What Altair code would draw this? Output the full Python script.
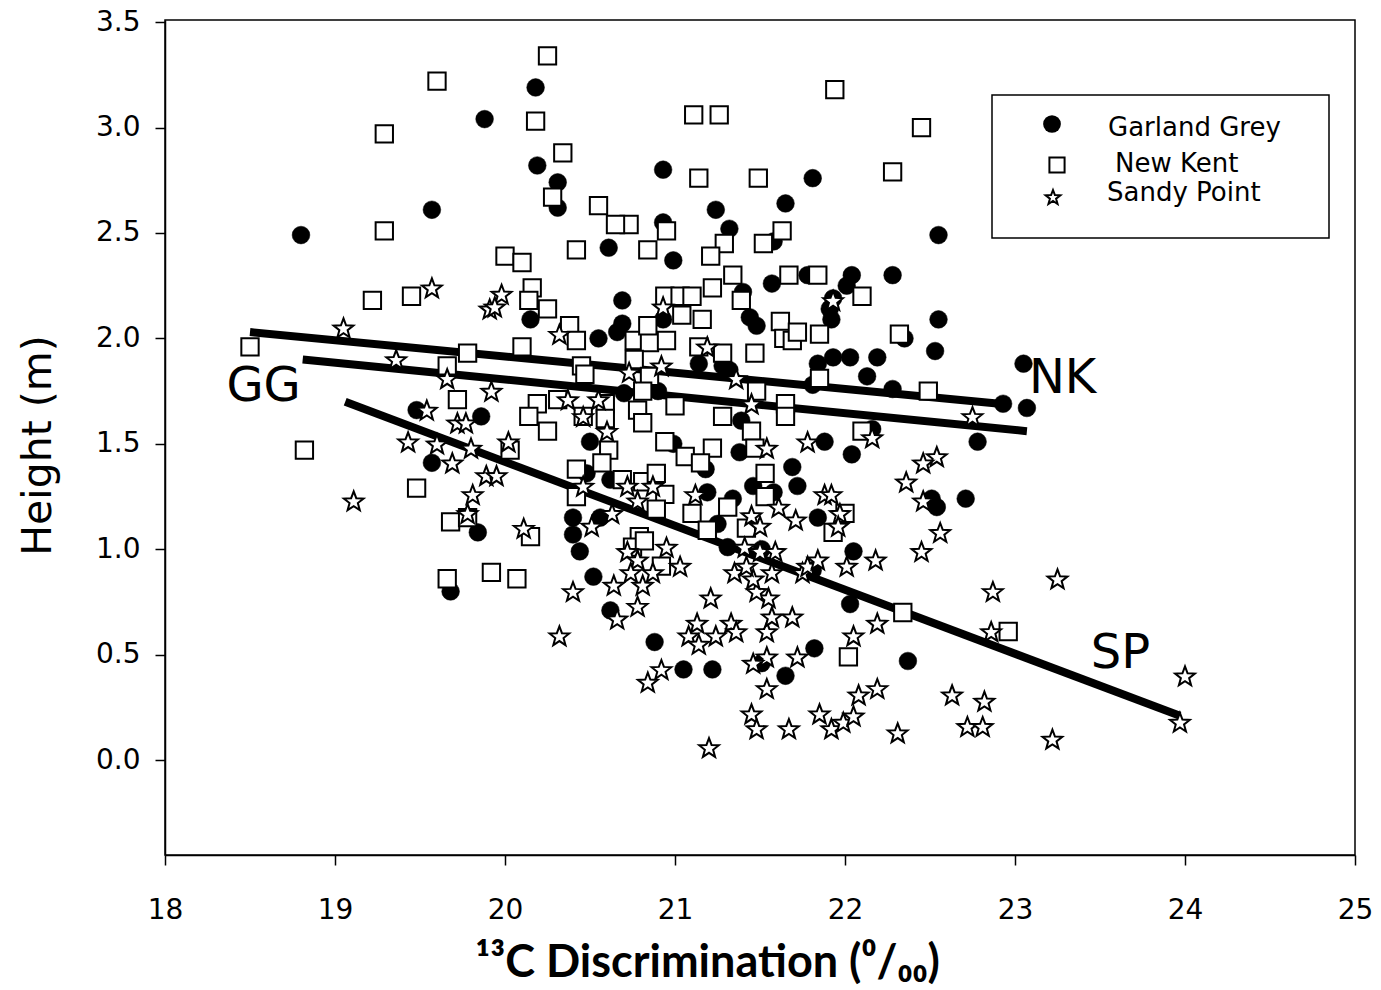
import altair as alt
import pandas as pd

# ---- data (x = 13C discrimination, y = height m) ----
garland_grey = [
    (20.18, 3.19), (19.88, 3.04), (20.19, 2.82), (20.31, 2.74), (20.31, 2.62), (19.57, 2.61),
    (18.80, 2.49), (20.93, 2.80), (21.81, 2.76), (21.65, 2.64), (21.24, 2.61), (21.32, 2.52),
    (20.93, 2.55), (20.61, 2.43), (20.99, 2.37), (21.78, 2.30), (22.04, 2.30), (21.57, 2.26),
    (21.58, 2.46), (22.28, 2.30), (22.55, 2.49), (20.69, 2.18), (20.69, 2.07), (20.66, 2.03),
    (20.55, 2.00), (20.93, 2.09), (21.14, 1.88), (21.28, 1.87), (21.32, 1.85), (21.40, 2.22),
    (21.44, 2.10), (21.48, 2.06), (22.01, 2.25), (21.93, 2.19), (21.91, 2.14), (21.92, 2.09),
    (21.84, 1.88), (21.93, 1.91), (22.03, 1.91), (22.19, 1.91), (22.13, 1.82), (21.81, 1.78),
    (20.50, 1.51), (20.70, 1.74), (20.90, 1.75), (20.99, 1.50), (21.18, 1.38), (21.39, 1.61),
    (21.38, 1.46), (21.46, 1.30), (21.58, 1.27), (21.69, 1.39), (21.72, 1.30), (21.88, 1.51),
    (22.04, 1.45), (21.19, 1.27), (21.34, 1.24), (20.40, 1.15), (20.56, 1.15), (21.84, 1.15),
    (20.40, 1.07), (20.62, 1.33), (20.48, 1.36), (22.16, 1.57), (22.55, 2.09), (22.35, 2.00),
    (22.53, 1.94), (22.28, 1.76), (23.05, 1.88), (22.93, 1.69), (23.07, 1.67), (22.78, 1.51),
    (22.51, 1.24), (22.54, 1.20), (22.71, 1.24), (20.15, 2.09), (19.48, 1.66), (19.86, 1.63),
    (19.57, 1.41), (19.84, 1.08), (19.68, 0.80), (20.44, 0.99), (20.52, 0.87), (20.62, 0.71),
    (20.88, 0.56), (21.05, 0.43), (21.22, 0.43), (21.31, 1.01), (21.25, 1.12), (21.51, 1.00),
    (21.81, 0.90), (22.05, 0.99), (22.03, 0.74), (21.82, 0.53), (21.65, 0.40), (21.51, 0.46),
    (22.37, 0.47),
]

new_kent = [
    (20.25, 3.34), (19.60, 3.22), (20.18, 3.03), (19.29, 2.97), (20.34, 2.88), (20.28, 2.67),
    (19.29, 2.51), (20.00, 2.39), (20.10, 2.36), (20.16, 2.24), (21.94, 3.18), (21.11, 3.06),
    (21.26, 3.06), (21.14, 2.76), (21.49, 2.76), (20.55, 2.63), (20.73, 2.54), (20.65, 2.54),
    (20.95, 2.51), (20.42, 2.42), (20.84, 2.42), (21.29, 2.45), (21.21, 2.39), (21.52, 2.45),
    (21.63, 2.51), (21.34, 2.30), (21.67, 2.30), (21.84, 2.30), (22.45, 3.00), (22.28, 2.79),
    (19.22, 2.18), (19.45, 2.20), (20.14, 2.18), (20.25, 2.14), (18.50, 1.96), (19.78, 1.93),
    (20.10, 1.96), (19.66, 1.87), (19.72, 1.71), (20.19, 1.69), (20.31, 1.71), (20.14, 1.63),
    (20.25, 1.56), (18.82, 1.47), (20.03, 1.47), (19.48, 1.29), (19.68, 1.13), (19.78, 1.15),
    (20.15, 1.06), (19.66, 0.86), (19.92, 0.89), (20.07, 0.86), (20.38, 2.06), (20.42, 1.99),
    (20.76, 1.99), (20.85, 1.98), (20.95, 1.99), (20.84, 2.06), (20.94, 2.20), (21.03, 2.20),
    (21.10, 2.20), (21.04, 2.11), (21.22, 2.24), (21.39, 2.18), (21.16, 2.09), (21.14, 1.96),
    (21.28, 1.93), (21.47, 1.93), (21.62, 2.08), (21.64, 2.00), (21.69, 1.99), (21.72, 2.03),
    (21.85, 2.02), (22.10, 2.20), (20.76, 1.90), (20.45, 1.87), (20.47, 1.83), (20.85, 1.82),
    (20.81, 1.75), (20.59, 1.69), (21.00, 1.68), (21.28, 1.63), (21.48, 1.75), (21.65, 1.69),
    (21.65, 1.63), (21.85, 1.81), (20.78, 1.66), (20.46, 1.63), (20.59, 1.62), (20.81, 1.60),
    (21.45, 1.56), (22.10, 1.56), (20.94, 1.51), (20.61, 1.47), (21.22, 1.48), (21.47, 1.48),
    (21.06, 1.44), (21.15, 1.41), (20.42, 1.38), (20.57, 1.41), (21.53, 1.36), (21.53, 1.25),
    (20.69, 1.33), (20.81, 1.32), (20.89, 1.36), (20.94, 1.26), (20.42, 1.25), (21.10, 1.17),
    (21.31, 1.20), (20.89, 1.19), (21.19, 1.09), (21.42, 1.10), (22.00, 1.17), (20.79, 1.06),
    (22.32, 2.02), (22.49, 1.75), (20.75, 1.01), (20.82, 1.04), (20.92, 0.92), (21.93, 1.08),
    (22.02, 0.49), (22.34, 0.70), (22.96, 0.61),
]

sandy_point = [
    (19.57, 2.24), (19.98, 2.21), (19.91, 2.14), (19.94, 2.15), (19.05, 2.05), (20.32, 2.02),
    (19.36, 1.90), (19.66, 1.81), (19.92, 1.75), (19.54, 1.66), (19.72, 1.60), (19.77, 1.60),
    (19.43, 1.51), (19.60, 1.50), (19.80, 1.48), (20.02, 1.51), (19.69, 1.41), (19.89, 1.35),
    (19.95, 1.35), (19.81, 1.26), (19.11, 1.23), (19.78, 1.17), (20.11, 1.10), (20.32, 0.59),
    (20.93, 2.15), (21.19, 1.96), (20.73, 1.84), (20.92, 1.87), (21.36, 1.81), (21.93, 2.18),
    (20.37, 1.71), (20.55, 1.71), (20.46, 1.63), (20.60, 1.56), (21.45, 1.69), (21.78, 1.51),
    (21.54, 1.48), (22.16, 1.53), (20.46, 1.30), (20.72, 1.30), (20.87, 1.30), (20.78, 1.23),
    (21.12, 1.26), (20.63, 1.17), (20.51, 1.11), (21.61, 1.20), (21.71, 1.14), (21.45, 1.16),
    (21.50, 1.11), (21.88, 1.26), (21.92, 1.26), (21.97, 1.17), (21.96, 1.11), (22.75, 1.63),
    (22.54, 1.44), (22.46, 1.41), (22.36, 1.32), (22.46, 1.23), (22.56, 1.08), (20.72, 0.99),
    (20.78, 0.95), (20.95, 1.01), (21.03, 0.92), (20.74, 0.89), (20.87, 0.89), (20.81, 0.83),
    (20.64, 0.83), (20.40, 0.80), (20.78, 0.73), (20.66, 0.67), (21.21, 0.77), (21.13, 0.65),
    (21.08, 0.59), (21.14, 0.55), (21.24, 0.59), (21.33, 0.65), (21.36, 0.61), (21.54, 0.61),
    (21.57, 0.68), (21.69, 0.68), (21.55, 0.77), (21.48, 0.80), (21.46, 0.86), (21.35, 0.89),
    (21.41, 1.01), (21.50, 0.99), (21.59, 0.99), (21.42, 0.92), (21.57, 0.89), (21.75, 0.89),
    (21.78, 0.92), (21.84, 0.95), (22.01, 0.92), (22.18, 0.95), (22.05, 0.59), (22.19, 0.65),
    (21.72, 0.49), (21.54, 0.49), (21.46, 0.46), (20.92, 0.43), (20.84, 0.37), (21.54, 0.34),
    (22.08, 0.31), (22.19, 0.34), (21.45, 0.22), (21.48, 0.15), (21.67, 0.15), (21.85, 0.22),
    (21.92, 0.15), (21.99, 0.18), (22.05, 0.21), (21.20, 0.06), (22.45, 0.99), (22.87, 0.80),
    (23.25, 0.86), (22.86, 0.61), (24.00, 0.40), (23.97, 0.18), (22.63, 0.31), (22.82, 0.28),
    (22.72, 0.16), (22.81, 0.16), (22.31, 0.13), (23.22, 0.10),
]

# regression lines: (label, x_start, y_start, x_end, y_end)
fit_lines = [
    ("NK", 18.50, 2.03, 22.91, 1.69),
    ("GG", 18.81, 1.90, 23.07, 1.56),
    ("SP", 19.06, 1.70, 23.97, 0.21),
]

# line labels: (text, x, y at baseline)
line_labels = [("GG", 18.58, 1.705), ("NK", 23.28, 1.743), ("SP", 23.62, 0.438)]

legend_names = ["Garland Grey", "New Kent", "Sandy Point"]
x_ticks = [18, 19, 20, 21, 22, 23, 24, 25]
y_ticks = [0.0, 0.5, 1.0, 1.5, 2.0, 2.5, 3.0, 3.5]

STAR = ("M0,-0.905L0.247,-0.245L0.951,-0.214L0.399,0.225L0.588,0.904L0,0.515"
        "L-0.588,0.904L-0.399,0.225L-0.951,-0.214L-0.247,-0.245Z")

# ---- tables ----
df_gg = pd.DataFrame(garland_grey, columns=["x", "y"])
df_nk = pd.DataFrame(new_kent, columns=["x", "y"])
df_sp = pd.DataFrame(sandy_point, columns=["x", "y"])
fit_rows = []
for name, x0, y0, x1, y1 in fit_lines:
    fit_rows.append({"fit": name, "x": x0, "y": y0})
    fit_rows.append({"fit": name, "x": x1, "y": y1})
df_fit = pd.DataFrame(fit_rows)
df_lab = pd.DataFrame(line_labels, columns=["label", "x", "y"])
one = pd.DataFrame({"a": [0]})

x_scale = alt.Scale(domain=[18, 25], nice=False, zero=False)
y_scale = alt.Scale(domain=[-0.45, 3.51], nice=False, zero=False)

common_axis = dict(
    grid=False, domainColor="black", domainWidth=1.5, tickColor="black", tickWidth=1.5,
    tickSize=10, labelColor="black", labelFont="DejaVu Sans", labelFontSize=28,
    labelFlush=False, titleColor="black",
)
x_axis = alt.Axis(
    values=x_ticks, format="d", title="¹³C Discrimination (⁰/₀₀)",
    titleFont="Lato", titleFontWeight="bold", titleFontSize=45,
    titleX=542, titleY=121, titleAlign="center", titleBaseline="alphabetic",
    labelPadding=31, **common_axis,
)
y_axis = alt.Axis(
    values=y_ticks, format=".1f", title="Height (m)",
    titleFont="DejaVu Sans", titleFontWeight="normal", titleFontSize=41,
    titleX=-115, titleY=425, titleAngle=270, titleAlign="center", titleBaseline="alphabetic",
    labelPadding=15, **common_axis,
)

X = alt.X("x:Q", scale=x_scale, axis=x_axis)
Y = alt.Y("y:Q", scale=y_scale, axis=y_axis)

lines = alt.Chart(df_fit).mark_line(color="black", strokeWidth=8, strokeCap="butt").encode(
    x=X, y=Y, detail="fit:N")
circles = alt.Chart(df_gg).mark_point(
    shape="circle", filled=True, fill="black", stroke="black", strokeWidth=0.5, size=314, opacity=1
).encode(x=X, y=Y)
squares = alt.Chart(df_nk).mark_point(
    shape="square", filled=True, fill="white", stroke="black", strokeWidth=2, size=300, opacity=1
).encode(x=X, y=Y)
stars = alt.Chart(df_sp).mark_point(
    shape=STAR, filled=True, fill="white", stroke="black", strokeWidth=2, size=430, opacity=1
).encode(x=X, y=Y)
labels = alt.Chart(df_lab).mark_text(
    font="DejaVu Sans", fontSize=48, color="black", align="center", baseline="alphabetic"
).encode(x=X, y=Y, text="label:N")

# ---- legend box (drawn as marks) ----
leg_box = alt.Chart(one).mark_rect(fill="white", stroke="black", strokeWidth=1.5).encode(
    x=alt.value(827), x2=alt.value(1164), y=alt.value(75), y2=alt.value(218))
leg_c = alt.Chart(one).mark_point(shape="circle", filled=True, fill="black", size=314, opacity=1).encode(
    x=alt.value(887), y=alt.value(104))
leg_s = alt.Chart(one).mark_point(shape="square", filled=True, fill="white", stroke="black",
                                  strokeWidth=2, size=230, opacity=1).encode(
    x=alt.value(892), y=alt.value(145))
leg_t = alt.Chart(one).mark_point(shape=STAR, filled=True, fill="white", stroke="black",
                                  strokeWidth=2, size=240, opacity=1).encode(
    x=alt.value(888), y=alt.value(177))
leg_txt = []
for name, lx, ly in zip(legend_names, [943, 950, 942], [116, 152, 181]):
    leg_txt.append(alt.Chart(one).mark_text(
        font="DejaVu Sans", fontSize=26, color="black", align="left", baseline="alphabetic"
    ).encode(x=alt.value(lx), y=alt.value(ly), text=alt.value(name)))

chart = alt.layer(
    lines, circles, squares, stars, labels, leg_box, leg_c, leg_s, leg_t, *leg_txt
).properties(
    width=1190, height=835,
    padding={"left": 165, "top": 20, "right": 26, "bottom": 135},
    autosize=alt.AutoSizeParams(type="none"),
    background="white",
).configure_view(stroke="black", strokeWidth=1.5)

chart.save("out.html", embed_options={"renderer": "svg", "actions": False})
